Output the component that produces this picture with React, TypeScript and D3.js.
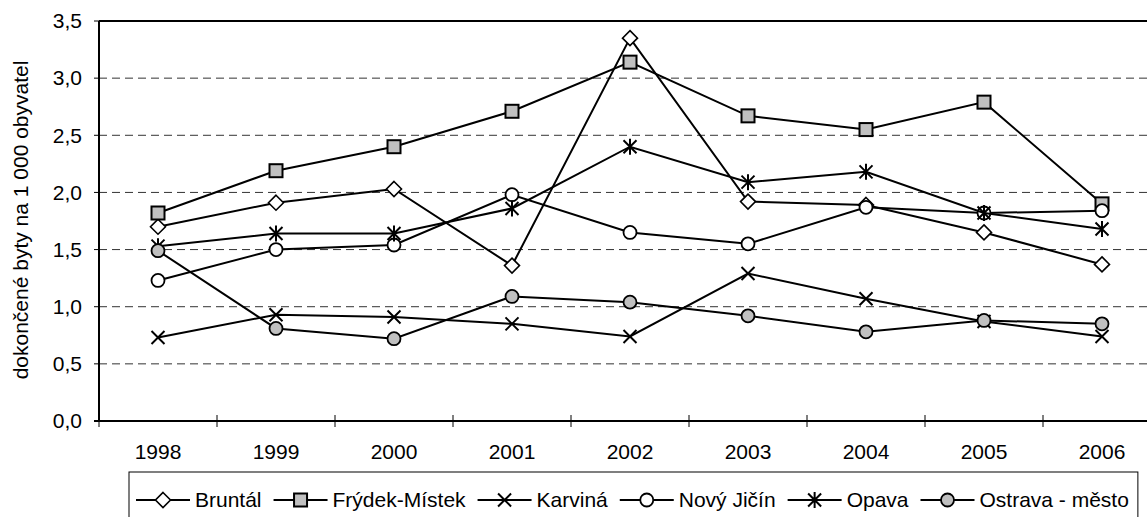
import React, { useEffect, useRef } from 'react';
import * as d3 from 'd3';

const WIDTH = 1147;
const HEIGHT = 517;
const FONT = '"Liberation Sans", Arial, sans-serif';
const FONT_SIZE = 21;

// data
const years = ['1998', '1999', '2000', '2001', '2002', '2003', '2004', '2005', '2006'];
const bruntal = [1.7, 1.91, 2.03, 1.36, 3.35, 1.92, 1.89, 1.65, 1.37];
const frydekMistek = [1.82, 2.19, 2.4, 2.71, 3.14, 2.67, 2.55, 2.79, 1.9];
const karvina = [0.73, 0.93, 0.91, 0.85, 0.74, 1.29, 1.07, 0.87, 0.74];
const novyJicin = [1.23, 1.5, 1.54, 1.98, 1.65, 1.55, 1.87, 1.82, 1.84];
const opava = [1.53, 1.64, 1.64, 1.86, 2.4, 2.09, 2.18, 1.82, 1.68];
const ostrava = [1.49, 0.81, 0.72, 1.09, 1.04, 0.92, 0.78, 0.88, 0.85];
const yTicks = [0, 0.5, 1, 1.5, 2, 2.5, 3, 3.5];
const yTitle = 'dokončené byty na 1 000 obyvatel';

const series = [
    { name: 'Bruntál', values: bruntal, marker: 'diamond' },
    { name: 'Frýdek-Místek', values: frydekMistek, marker: 'square' },
    { name: 'Karviná', values: karvina, marker: 'x' },
    { name: 'Nový Jičín', values: novyJicin, marker: 'circle' },
    { name: 'Opava', values: opava, marker: 'star' },
    { name: 'Ostrava - město', values: ostrava, marker: 'dot' },
];

const MARGIN = { top: 21, left: 99, bottom: 96 };

function drawMarker(parent: any, kind: string, x: number, y: number) {
    const m = parent.append('g').attr('transform', `translate(${x},${y})`);
    if (kind === 'diamond') {
        m.append('path')
            .attr('d', 'M0,-7.5L7.5,0L0,7.5L-7.5,0Z')
            .attr('fill', '#fff')
            .attr('stroke', '#000')
            .attr('stroke-width', 1.6);
    } else if (kind === 'square') {
        m.append('rect')
            .attr('x', -6.5)
            .attr('y', -6.5)
            .attr('width', 13)
            .attr('height', 13)
            .attr('fill', '#c0c0c0')
            .attr('stroke', '#000')
            .attr('stroke-width', 2);
    } else if (kind === 'x') {
        m.append('path')
            .attr('d', 'M-6.5,-6.5L6.5,6.5M-6.5,6.5L6.5,-6.5')
            .attr('stroke', '#000')
            .attr('stroke-width', 2);
    } else if (kind === 'star') {
        m.append('path')
            .attr('d', 'M-6.5,-6.5L6.5,6.5M-6.5,6.5L6.5,-6.5M0,-8L0,8')
            .attr('stroke', '#000')
            .attr('stroke-width', 2);
    } else if (kind === 'circle' || kind === 'dot') {
        m.append('circle')
            .attr('r', 6.5)
            .attr('fill', kind === 'dot' ? '#c0c0c0' : '#fff')
            .attr('stroke', '#000')
            .attr('stroke-width', 1.8);
    }
}

export default function App() {
    const svgRef = useRef<SVGSVGElement>(null);

    useEffect(() => {
        const svg = d3.select(svgRef.current);
        svg.selectAll('*').remove();

        const plotBottom = HEIGHT - MARGIN.bottom;

        const x = d3
            .scaleBand()
            .domain(years)
            .range([MARGIN.left, MARGIN.left + 118 * years.length]);

        const y = d3.scaleLinear().domain([0, 3.5]).range([plotBottom, MARGIN.top]);

        const root = svg.append('g').attr('font-family', FONT).attr('font-size', FONT_SIZE);

        // dashed gridlines
        root.append('g')
            .selectAll('line')
            .data(yTicks.filter((t) => t > 0 && t < 3.5))
            .join('line')
            .attr('x1', MARGIN.left)
            .attr('x2', x.range()[1])
            .attr('y1', (d) => y(d))
            .attr('y2', (d) => y(d))
            .attr('stroke', '#333')
            .attr('stroke-width', 1)
            .attr('stroke-dasharray', '8,5');

        // plot frame top
        root.append('line')
            .attr('x1', MARGIN.left)
            .attr('x2', x.range()[1])
            .attr('y1', y(3.5))
            .attr('y2', y(3.5))
            .attr('stroke', '#000')
            .attr('stroke-width', 2);

        // y axis
        const yAxis = root.append('g');
        yAxis.append('line')
            .attr('x1', MARGIN.left)
            .attr('x2', MARGIN.left)
            .attr('y1', y(3.5))
            .attr('y2', y(0))
            .attr('stroke', '#000')
            .attr('stroke-width', 2);
        yAxis.selectAll('line.tick')
            .data(yTicks)
            .join('line')
            .attr('class', 'tick')
            .attr('x1', MARGIN.left - 5)
            .attr('x2', MARGIN.left)
            .attr('y1', (d) => y(d))
            .attr('y2', (d) => y(d))
            .attr('stroke', '#000')
            .attr('stroke-width', 1);
        yAxis.selectAll('text')
            .data(yTicks)
            .join('text')
            .attr('x', MARGIN.left - 17)
            .attr('y', (d) => y(d))
            .attr('dy', '0.35em')
            .attr('text-anchor', 'end')
            .attr('fill', '#000')
            .text((d) => d3.format('.1f')(d).replace('.', ','));

        root.append('text')
            .attr('transform', `translate(28,${(y(0) + y(3.5)) / 2 - 1}) rotate(-90)`)
            .attr('text-anchor', 'middle')
            .attr('fill', '#000')
            .text(yTitle);

        // x axis
        const xAxis = root.append('g');
        xAxis.append('line')
            .attr('x1', MARGIN.left - 5)
            .attr('x2', x.range()[1])
            .attr('y1', y(0))
            .attr('y2', y(0))
            .attr('stroke', '#000')
            .attr('stroke-width', 2);
        xAxis.selectAll('line.tick')
            .data(years)
            .join('line')
            .attr('class', 'tick')
            .attr('x1', (d) => x(d))
            .attr('x2', (d) => x(d))
            .attr('y1', y(0) - 6)
            .attr('y2', y(0) + 6)
            .attr('stroke', '#000')
            .attr('stroke-width', 1);
        xAxis.selectAll('text')
            .data(years)
            .join('text')
            .attr('x', (d) => x(d) + x.bandwidth() / 2)
            .attr('y', y(0) + 38)
            .attr('text-anchor', 'middle')
            .attr('fill', '#000')
            .text((d) => d);

        // series
        const line = d3
            .line<number>()
            .x((_, i) => x(years[i]) + x.bandwidth() / 2)
            .y((d) => y(d));

        series.forEach((s) => {
            const g = root.append('g');
            g.append('path')
                .datum(s.values)
                .attr('fill', 'none')
                .attr('stroke', '#000')
                .attr('stroke-width', 2)
                .attr('d', line);
            s.values.forEach((v, i) => {
                drawMarker(g, s.marker, x(years[i]) + x.bandwidth() / 2, y(v));
            });
        });

        // legend
        const legendTop = 472;
        const legendLeft = 129;
        const legend = root.append('g');
        const box = legend.append('rect')
            .attr('x', legendLeft)
            .attr('y', legendTop)
            .attr('height', 60)
            .attr('fill', '#fff')
            .attr('stroke', '#000')
            .attr('stroke-width', 1);
        let cursor = legendLeft + 7;
        const cy = legendTop + 28;
        series.forEach((s) => {
            legend.append('line')
                .attr('x1', cursor)
                .attr('x2', cursor + 54)
                .attr('y1', cy)
                .attr('y2', cy)
                .attr('stroke', '#000')
                .attr('stroke-width', 2);
            drawMarker(legend, s.marker, cursor + 27, cy);
            const t = legend.append('text')
                .attr('x', cursor + 59)
                .attr('y', cy + 7)
                .attr('fill', '#000')
                .text(s.name);
            const w = (t.node() as SVGTextElement).getComputedTextLength();
            cursor += 59 + w + 12;
        });
        box.attr('width', cursor - 12 + 9 - legendLeft);
    }, []);

    return (
        <svg
            ref={svgRef}
            width={WIDTH}
            height={HEIGHT}
            style={{ position: 'absolute', left: 0, top: 0, background: '#fff', display: 'block' }}
        />
    );
}
